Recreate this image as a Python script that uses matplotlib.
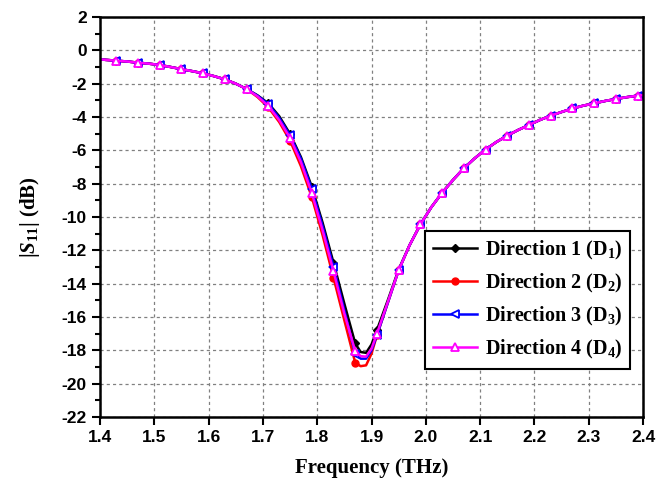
import numpy as np
import matplotlib
matplotlib.use("Agg")
import matplotlib.pyplot as plt
from matplotlib.ticker import MultipleLocator

plt.rcParams['mathtext.fontset'] = 'custom'
plt.rcParams['mathtext.rm'] = 'Liberation Serif:bold'
plt.rcParams['mathtext.it'] = 'Liberation Serif:italic:bold'
plt.rcParams['mathtext.bf'] = 'Liberation Serif:bold'

freq = [1.40, 1.41, 1.43, 1.45, 1.47, 1.49, 1.51, 1.53, 1.55, 1.57, 1.59, 1.61, 1.63,
        1.65, 1.67, 1.69, 1.71, 1.73, 1.75, 1.77, 1.79, 1.81, 1.83, 1.85, 1.87,
        1.88, 1.89, 1.90, 1.91, 1.93, 1.95, 1.97, 1.99, 2.01, 2.03, 2.05, 2.07,
        2.09, 2.11, 2.13, 2.15, 2.17, 2.19, 2.21, 2.23, 2.25, 2.27, 2.29, 2.31,
        2.33, 2.35, 2.37, 2.39, 2.40]

common_head = [-0.54, -0.57, -0.62, -0.67, -0.74, -0.80, -0.88, -1.00, -1.13, -1.25,
               -1.38, -1.55, -1.74, -2.00, -2.32]
common_tail = [-11.7, -10.45, -9.42, -8.55, -7.78, -7.08, -6.48, -5.95, -5.50, -5.12,
               -4.78, -4.48, -4.18, -3.92, -3.70, -3.49, -3.32, -3.18, -3.04, -2.92,
               -2.81, -2.72, -2.69]

d1_mid = [-2.70, -3.18, -3.95, -5.02, -6.40, -8.18, -10.35, -12.74, -15.20, -17.58,
          -18.10, -18.15, -17.65, -16.78, -15.00, -13.15]
d2_mid = [-2.80, -3.42, -4.30, -5.42, -6.95, -8.80, -11.10, -13.64, -16.20, -18.74,
          -18.95, -18.90, -18.20, -17.10, -15.15, -13.20]
d3_mid = [-2.72, -3.22, -4.05, -5.10, -6.50, -8.30, -10.55, -12.98, -15.60, -18.20,
          -18.50, -18.50, -18.00, -17.10, -15.15, -13.20]
d4_mid = [-2.76, -3.34, -4.18, -5.25, -6.70, -8.55, -10.80, -13.25, -15.80, -18.04,
          -18.35, -18.38, -17.90, -17.00, -15.10, -13.20]

marker_freq = [1.43, 1.47, 1.51, 1.55, 1.59, 1.63, 1.67, 1.71, 1.75, 1.79, 1.83, 1.87,
               1.91, 1.95, 1.99, 2.03, 2.07, 2.11, 2.15, 2.19, 2.23, 2.27, 2.31, 2.35, 2.39]

labels = ['Direction 1 (D$_1$)', 'Direction 2 (D$_2$)',
          'Direction 3 (D$_3$)', 'Direction 4 (D$_4$)']
colors = ['black', 'red', 'blue', 'magenta']

series = [common_head + d1_mid + common_tail,
          common_head + d2_mid + common_tail,
          common_head + d3_mid + common_tail,
          common_head + d4_mid + common_tail]

f = np.array(freq)
mk_idx = [int(np.argmin(np.abs(f - m))) for m in marker_freq]

fig = plt.figure(figsize=(6.58, 4.83), dpi=100)
ax = fig.add_axes([100/658, 1-417/483, 543/658, 400/483])

styles = [
    dict(marker='D', markersize=4, markerfacecolor='black', markeredgecolor='black'),
    dict(marker='o', markersize=5, markerfacecolor='red', markeredgecolor='red'),
    dict(marker='<', markersize=6, markerfacecolor='white', markeredgecolor='blue', markeredgewidth=1.3),
    dict(marker='^', markersize=6, markerfacecolor='white', markeredgecolor='magenta', markeredgewidth=1.3),
]

for vals, lab, c, st in zip(series, labels, colors, styles):
    ax.plot(f, vals, color=c, lw=1.8, label=lab, markevery=mk_idx, **st)

ax.set_xlim(1.4, 2.4)
ax.set_ylim(-22, 2)
xt = np.arange(1.4, 2.41, 0.1)
yt = np.arange(-22, 2.1, 2)
ax.set_xticks(xt)
ax.set_xticklabels([f"{v:.1f}" for v in xt])
ax.set_yticks(yt)
ax.set_yticklabels([f"{int(v)}" for v in yt])
ax.yaxis.set_minor_locator(MultipleLocator(1))

ax.grid(True, which='major', color='gray', linestyle=(0, (2.5, 2.5)), linewidth=0.9)
ax.tick_params(axis='both', which='major', direction='out', length=6, width=1.5,
               labelsize=12.5, top=False, right=False)
ax.tick_params(axis='y', which='minor', direction='out', length=3.5, width=1.5)
for lab in ax.get_xticklabels() + ax.get_yticklabels():
    lab.set_fontfamily('Liberation Sans')
    lab.set_fontweight('bold')
for sp in ax.spines.values():
    sp.set_linewidth(1.8)

ax.set_xlabel('Frequency (THz)', fontfamily='Liberation Serif', fontweight='bold',
              fontsize=15, labelpad=9)
ax.set_ylabel(r'$|S_{11}|$ (dB)', fontfamily='Liberation Serif', fontweight='bold',
              fontsize=15, labelpad=14)

leg = ax.legend(loc='lower left', bbox_to_anchor=(0.598, 0.12),
                prop={'family': 'Liberation Serif', 'weight': 'bold', 'size': 14.5},
                frameon=True, fancybox=False, edgecolor='black', framealpha=1,
                handlelength=2.2, borderpad=0.4, labelspacing=0.5, handletextpad=0.4,
                borderaxespad=0)
leg.get_frame().set_linewidth(1.5)

fig.savefig('out.png', dpi=100)
